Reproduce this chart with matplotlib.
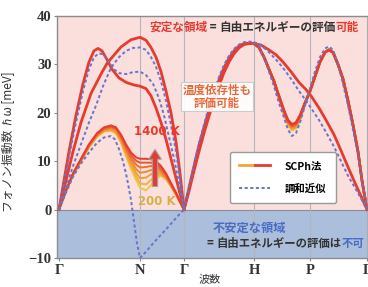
import numpy as np
import matplotlib.pyplot as plt
from matplotlib.colors import LinearSegmentedColormap
from matplotlib.lines import Line2D
from matplotlib.legend_handler import HandlerTuple

plt.rcParams['font.family'] = ['Noto Sans CJK JP', 'DejaVu Sans']
plt.rcParams['font.weight'] = 'bold'

# high-symmetry points along the path
k_pos = [0.01, 0.82, 1.26, 1.96, 2.52, 3.09]
k_labels = ['Γ', 'N', 'Γ', 'H', 'P', 'Γ']

# --- SCPh (red) branches ---
a_x = [0.01, 0.06, 0.11, 0.18, 0.25, 0.31, 0.36, 0.40, 0.44, 0.49, 0.54, 0.61,
       0.68, 0.75, 0.82, 0.88, 0.93, 0.98, 1.03, 1.08, 1.13, 1.18, 1.22, 1.26]
a_y = [0, 6, 12, 19.5, 26, 30.5, 32.8, 33.3, 32.8, 31, 29, 27.2,
       26.3, 25.8, 25.5, 25, 23.5, 21, 18, 14.5, 10.5, 6.5, 3.3, 0]

b_x = [0.01, 0.08, 0.15, 0.23, 0.33, 0.43, 0.49, 0.53, 0.63, 0.73, 0.82,
       0.88, 0.93, 0.98, 1.03, 1.08, 1.13, 1.18, 1.22, 1.26]
b_y = [0, 6, 12, 18, 24, 28, 30.2, 31.2, 33.6, 35.1, 35.6,
       35, 33.5, 31.5, 28.5, 24.5, 20, 14, 7.5, 0]

# low branch, temperature dependent (200 K ... 1400 K)
temps = [200, 400, 600, 800, 1000, 1200, 1400]
low_x = [0.01, 0.08, 0.15, 0.23, 0.31, 0.39, 0.46, 0.53, 0.58, 0.63, 0.68, 0.73,
         0.78, 0.82, 0.88, 0.93, 0.98, 1.03, 1.08, 1.13, 1.18, 1.23, 1.26]
low_200 = [0, 3.8, 7.0, 10.0, 12.8, 15.0, 16.1, 16.3, 15.7, 13.8, 11.0, 8.4,
           6.2, 4.5, 4.0, 5.0, 6.5, 7.0, 6.3, 4.8, 3.1, 1.1, 0]
low_400 = [0, 3.8, 7.1, 10.0, 12.9, 15.1, 16.2, 16.4, 15.9, 14.0, 11.4, 8.9,
           6.9, 5.4, 5.2, 6.1, 7.1, 7.2, 6.4, 4.8, 3.1, 1.1, 0]
low_600 = [0, 3.8, 7.1, 10.1, 13.0, 15.2, 16.4, 16.6, 16.1, 14.3, 11.8, 9.5,
           7.6, 6.5, 6.6, 7.3, 7.7, 7.4, 6.5, 4.9, 3.2, 1.1, 0]
low_800 = [0, 3.9, 7.2, 10.2, 13.1, 15.4, 16.5, 16.8, 16.3, 14.6, 12.3, 10.1,
           8.4, 7.6, 7.8, 8.2, 8.3, 7.8, 6.7, 5.0, 3.2, 1.2, 0]
low_1000 = [0, 3.9, 7.3, 10.3, 13.2, 15.5, 16.7, 17.0, 16.6, 14.9, 12.7, 10.7,
            9.3, 8.7, 8.8, 9.0, 8.9, 8.2, 7.0, 5.2, 3.3, 1.2, 0]
low_1200 = [0, 4.0, 7.4, 10.4, 13.4, 15.6, 16.8, 17.2, 16.8, 15.2, 13.1, 11.3,
            10.1, 9.7, 9.7, 9.7, 9.4, 8.6, 7.2, 5.3, 3.4, 1.2, 0]
low_1400 = [0, 4.0, 7.5, 10.5, 13.5, 15.8, 17.0, 17.4, 17.0, 15.5, 13.5, 11.8,
            10.8, 10.5, 10.5, 10.4, 10.0, 9.0, 7.5, 5.5, 3.5, 1.3, 0]
low_rows = [low_200, low_400, low_600, low_800, low_1000, low_1200, low_1400]

gh_x = [1.26, 1.31, 1.36, 1.41, 1.46, 1.51, 1.56, 1.61, 1.66, 1.71, 1.76, 1.81, 1.86, 1.91, 1.96]
f1_y = [0, 4.5, 9, 13.3, 17, 20.5, 23.8, 26.8, 29.3, 31.3, 32.8, 33.8, 34.3, 34.4, 34.3]
f2_y = [0, 3.8, 8, 12, 15.8, 19.3, 22.6, 25.6, 28.3, 30.5, 32.2, 33.4, 34.1, 34.3, 34.3]

e_x = [1.96, 2.03, 2.11, 2.18, 2.25, 2.33, 2.41, 2.48, 2.53, 2.61, 2.68, 2.76,
       2.83, 2.90, 2.97, 3.03, 3.09]
e_y = [34.3, 34, 33, 32, 30.5, 28.5, 26.3, 24.8, 23.5, 21, 18.5, 15.5,
       12.2, 8.8, 5.5, 2.8, 0]

d_x = [1.96, 2.01, 2.06, 2.11, 2.16, 2.21, 2.26, 2.30, 2.34, 2.38, 2.42, 2.47, 2.52,
       2.57, 2.62, 2.67, 2.71, 2.75, 2.80, 2.85, 2.90, 2.95, 3.00, 3.04, 3.09]
d_y = [34.3, 33.5, 31.5, 29, 26.5, 23.5, 20.5, 18.5, 17.6, 18, 19.5, 22, 24.5,
       27.5, 30.5, 32.5, 33, 32.5, 30, 27, 22.5, 17.5, 12, 6, 0]
# dip of the H-P branch (points 5..10) for 200 K ... 1400 K
d_dip = [[23.0, 19.8, 17.5, 16.4, 16.8, 18.6],
         [23.1, 19.9, 17.7, 16.6, 17.0, 18.7],
         [23.2, 20.1, 17.9, 16.8, 17.2, 18.9],
         [23.3, 20.2, 18.0, 17.0, 17.4, 19.0],
         [23.3, 20.3, 18.2, 17.2, 17.6, 19.2],
         [23.4, 20.4, 18.3, 17.4, 17.8, 19.3],
         [23.5, 20.5, 18.5, 17.6, 18.0, 19.5]]

# --- harmonic (blue dotted) branches ---
h1_x = [0.01, 0.08, 0.15, 0.23, 0.31, 0.38, 0.45, 0.53, 0.61, 0.68, 0.75, 0.82,
        0.88, 0.93, 0.98, 1.03, 1.08, 1.13, 1.18, 1.22, 1.26]
h1_y = [0, 4.5, 9, 13.5, 18, 21.5, 25.5, 29.3, 31.5, 32.8, 33.4, 33.5,
        33, 31.5, 29.5, 26.5, 22.5, 17.5, 12, 6.5, 0]
h2_x = [0.01, 0.06, 0.11, 0.18, 0.25, 0.31, 0.36, 0.41, 0.46, 0.51, 0.56, 0.61,
        0.68, 0.75, 0.82, 0.88, 0.95, 1.01, 1.06, 1.11, 1.16, 1.21, 1.26]
h2_y = [0, 5.5, 11, 18, 24.5, 29, 31.5, 32.3, 32, 30.5, 29, 28.2,
        28, 28.4, 28.5, 27.8, 26, 23, 19.5, 15, 10.5, 5.5, 0]
h3_x = [0.01, 0.08, 0.15, 0.23, 0.31, 0.39, 0.46, 0.53, 0.57, 0.61, 0.65, 0.69,
        0.73, 0.76, 0.79, 0.82, 0.88, 0.95, 1.03, 1.11, 1.19, 1.26]
h3_y = [0, 3.5, 6.8, 9.5, 11.8, 13.8, 14.9, 15.2, 14.5, 12.5, 10, 6.5,
        2, -2.5, -7, -10, -8.7, -7, -5.2, -3.4, -1.5, 0]
g1_y = [0, 4.6, 9.3, 13.7, 17.6, 21.2, 24.5, 27.4, 29.9, 31.8, 33.2, 34.1, 34.6, 34.7, 34.6]
e2_y = [34.6, 34, 32.5, 31, 29.3, 27, 24.5, 22.5, 21, 18.5, 16, 13,
        10, 7, 4.5, 2.3, 0]
d2_y = [34.6, 33.8, 31.5, 28.5, 25.5, 22, 19, 16.5, 15.2, 15.8, 18, 21.5, 25,
        28.5, 31.5, 33.3, 33.7, 33, 30, 26, 21.5, 16.5, 11.5, 6, 0]

red = '#e63b2e'
blue = '#6675cc'
pink = '#fadfdd'
lightblue = '#abbedb'
tcmap = LinearSegmentedColormap.from_list('t', ['#f3c640', '#f08a30', red])

fig = plt.figure(figsize=(3.68, 2.87), dpi=100)
ax = fig.add_axes([57 / 368, 29 / 287, 311 / 368, 242 / 287])
ax.set_xlim(-0.01, 3.10)
ax.set_ylim(-10, 40)

ax.axhspan(0, 40, color=pink, zorder=0, lw=0)
ax.axhspan(-10, 0, color=lightblue, zorder=0, lw=0)
ax.axhline(0, color='#8a8a9a', lw=0.8, zorder=1)
for k in k_pos[1:]:
    ax.axvline(k, color='#b5b5bd', lw=0.8, zorder=1)

# temperature-dependent branches
for i, t in enumerate(temps):
    c = tcmap(i / (len(temps) - 1))
    ax.plot(low_x, low_rows[i], color=c, lw=1.4, zorder=3 + i * 0.01)
    dy = list(d_y)
    dy[5:11] = d_dip[i]
    ax.plot(d_x, dy, color=c, lw=1.8, zorder=3 + i * 0.01)

for xs, ys in [(a_x, a_y), (b_x, b_y), (gh_x, f1_y), (gh_x, f2_y), (e_x, e_y)]:
    ax.plot(xs, ys, color=red, lw=2.0, zorder=3)

dots = (0, (1.6, 1.3))
for xs, ys in [(h1_x, h1_y), (h2_x, h2_y), (h3_x, h3_y), (gh_x, g1_y), (e_x, e2_y), (d_x, d2_y)]:
    ax.plot(xs, ys, color=blue, lw=1.4, ls=dots, zorder=4)


def colored_text(x, y, parts, size):
    t = ax.text(x, y, parts[0][0], color=parts[0][1], fontsize=size,
                fontweight='bold', va='center', zorder=6)
    for s, c in parts[1:]:
        t = ax.annotate(s, xycoords=t, xy=(1, 0), va='bottom', color=c,
                        fontsize=size, fontweight='bold', zorder=6)
    return t


colored_text(0.91, 37.7, [('安定な領域', red), (' = ', '#333333'),
                           ('自由エネルギーの評価', '#333333'), ('可能', red)], 8.4)
ax.text(1.55, -3.9, '不安定な領域', color='#4a6cc4', fontsize=8.8,
        fontweight='bold', va='center', zorder=6)
colored_text(1.49, -7.0, [('= ', '#333333'), ('自由エネルギーの評価は', '#333333'),
                          ('不可', '#4a6cc4')], 8.2)

ax.text(1.59, 23.4, '温度依存性も\n評価可能', color='#e8693a', fontsize=8.3,
        fontweight='bold', ha='center', va='center', linespacing=1.0, zorder=6,
        bbox=dict(boxstyle='square,pad=0.15', fc='white', ec='#c8c8c8', lw=0.8, alpha=0.9))

ax.text(0.99, 16.1, '1400 K', color=red, fontsize=8.5, fontweight='bold',
        family=['DejaVu Sans'], ha='center', va='center', zorder=6)
ax.text(0.99, 1.7, '200 K', color='#d2b24a', fontsize=8.5, fontweight='bold',
        family=['DejaVu Sans'], ha='center', va='center', zorder=6)
ax.annotate('', xy=(0.97, 13.0), xytext=(0.97, 4.2), zorder=6,
            arrowprops=dict(arrowstyle='simple,head_width=0.9,head_length=0.7,tail_width=0.38',
                            fc=red, ec='#a0a0a0', lw=0.8))

handles = [(Line2D([], [], color='#f3a33a', lw=2), Line2D([], [], color=red, lw=2)),
           Line2D([], [], color=blue, lw=1.4, ls=dots)]
leg = ax.legend(handles, ['SCPh法', '調和近似'], loc='center',
                bbox_to_anchor=(0.726, 0.333), fontsize=7.5, frameon=True,
                handlelength=3.0, handletextpad=1.4, labelspacing=1.2, borderpad=0.9,
                fancybox=True, edgecolor='#9a9a9a', facecolor='white', framealpha=1,
                handler_map={tuple: HandlerTuple(ndivide=None, pad=0)})
leg.set_zorder(7)
leg.get_frame().set_linewidth(1.0)

serif = dict(family='Liberation Serif', weight='bold', size=10.5, color='#333333')
ax.set_yticks([-10, 0, 10, 20, 30, 40])
ax.set_yticklabels(['−10', '0', '10', '20', '30', '40'], fontdict=serif)
ax.set_xticks(k_pos)
ax.set_xticklabels(k_labels, fontdict=serif)
ax.tick_params(axis='both', length=2, color='#888888', pad=2)
for s in ax.spines.values():
    s.set_color('#8c8c8c')
    s.set_linewidth(1.0)

ax.set_ylabel('フォノン振動数 ℏω [meV]', fontsize=8.5, color='#333333')
ax.yaxis.set_label_coords(-0.135, 0.48)
ax.set_xlabel('波数', fontsize=8, color='#333333')
ax.xaxis.set_label_coords(0.49, -0.068)

fig.savefig('out.png', dpi=100)
